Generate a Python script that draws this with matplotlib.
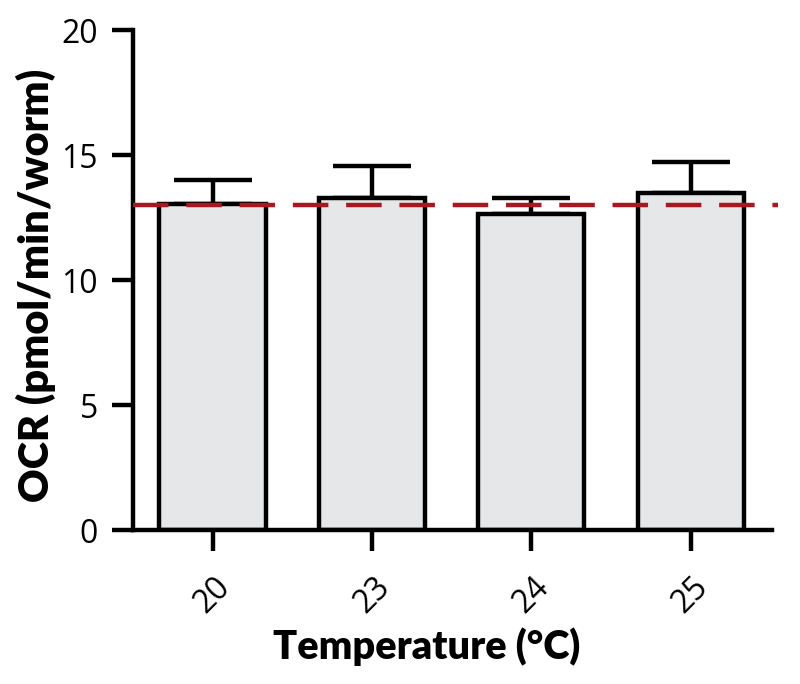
import matplotlib
matplotlib.use("Agg")
import matplotlib.pyplot as plt
import numpy as np

categories = ["20", "23", "24", "25"]
means = [13.05, 13.27, 12.65, 13.47]
upper_err = [0.95, 1.29, 0.62, 1.27]
reference_level = 13.0
yticks = [0, 5, 10, 15, 20]

plt.rcParams['font.family'] = ['Open Sans', 'DejaVu Sans']

K = 1.39
LW = 2.3 * K

fig = plt.figure(figsize=(8, 6.84), dpi=100)
ax = fig.add_axes([0.166, 0.225, 0.799, 0.731])

x = np.arange(len(categories))
ax.bar(x, means, width=0.665, color='#e6e7e9', edgecolor='black', linewidth=LW, zorder=2)
ax.errorbar(x, means, yerr=[np.zeros(len(means)), upper_err], fmt='none',
            ecolor='black', elinewidth=LW, capsize=20 * K, capthick=LW, zorder=1)
ax.axhline(reference_level, xmin=0, xmax=1.01, color='#a8181f', linestyle=(0, (8, 4)),
           linewidth=LW, zorder=3, clip_on=False)

ax.set_xlim(-0.5, 3.51)
ax.set_ylim(0, 20)
ax.set_yticks(yticks)
ax.set_yticklabels([str(v) for v in yticks], fontsize=16.5 * K)
ax.set_xticks(x)
ax.set_xticklabels(categories, fontsize=16.5 * K, rotation=45, ha='center', va='top')

for s in ['top', 'right']:
    ax.spines[s].set_visible(False)
for s in ['left', 'bottom']:
    ax.spines[s].set_linewidth(LW)
ax.tick_params(axis='both', length=11 * K, width=LW, pad=7 * K)
ax.tick_params(axis='x', pad=10 * K)

label_font = ['Lato', 'DejaVu Sans']
ax.set_ylabel('OCR (pmol/min/worm)', fontsize=21.5 * K, fontweight='heavy', family=label_font)
ax.yaxis.set_label_coords(-0.12, 0.49)
ax.set_xlabel('Temperature (°C)', fontsize=20.5 * K, fontweight='heavy', family=label_font)
ax.xaxis.set_label_coords(0.46, -0.195)

fig.savefig('out.png', dpi=100)
